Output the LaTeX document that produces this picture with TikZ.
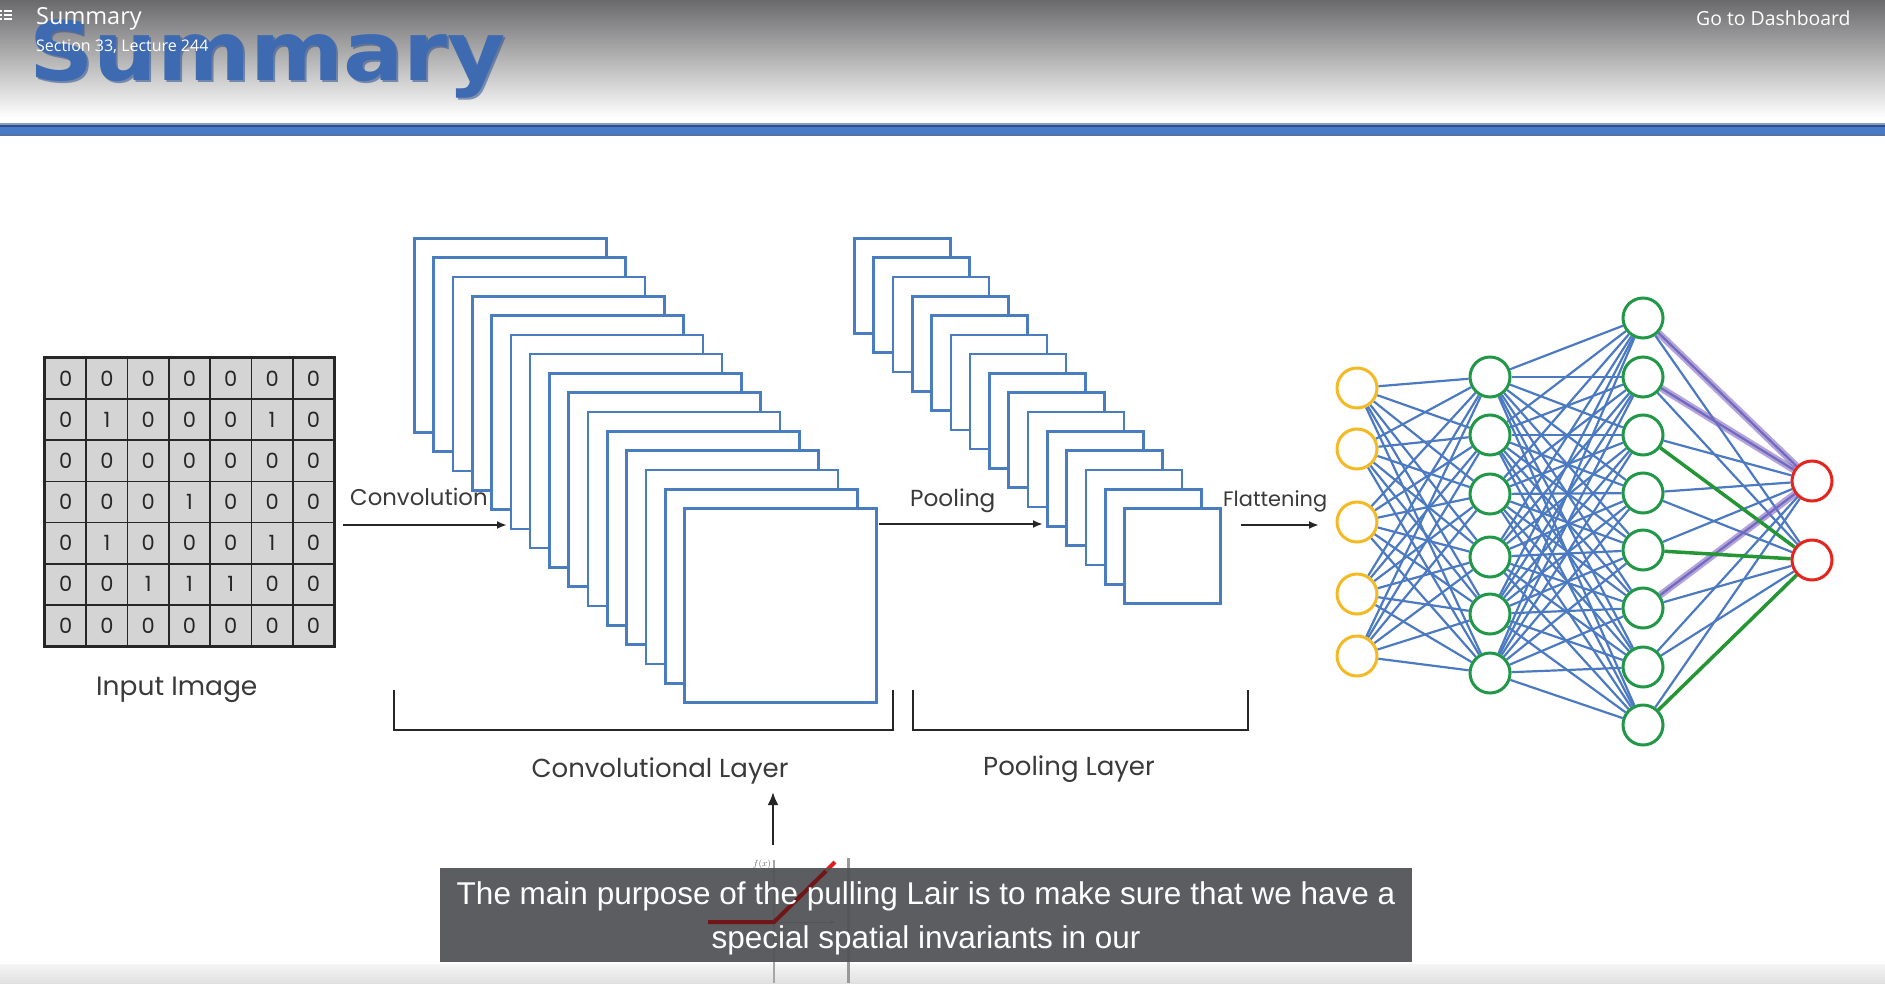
\documentclass[tikz,border=0pt]{standalone}
\usepackage{fontspec}
\setmainfont{Poppins}
\newfontfamily\capfont{Liberation Sans}
\newfontfamily\hdrfont{Open Sans}
\newfontfamily\bigfont{DejaVu Sans}
\usetikzlibrary{arrows.meta,backgrounds}
\newcommand\fsz[1]{\fontsize{#1pt}{#1pt}\selectfont}
\definecolor{cnnblue}{RGB}{74,124,192}
\definecolor{edgeblue}{RGB}{76,122,194}
\definecolor{nngreen}{RGB}{32,152,72}
\definecolor{nnyellow}{RGB}{244,186,36}
\definecolor{nnred}{RGB}{230,36,30}
\definecolor{hpurple}{RGB}{132,100,192}
\definecolor{hgreen}{RGB}{36,150,52}
\definecolor{gridgray}{RGB}{212,212,212}
\definecolor{capgray}{RGB}{80,81,86}
\definecolor{titleblue}{RGB}{62,106,178}
\definecolor{banddark}{RGB}{44,78,140}
\definecolor{bandblue}{RGB}{72,122,200}
\definecolor{labelgray}{RGB}{58,58,58}
\definecolor{hdrgray}{RGB}{106,106,108}
\definecolor{darkred}{RGB}{112,22,22}
\definecolor{brightred}{RGB}{222,30,30}
\newcommand\gridrow[2]{%
  \foreach \v [count=\c] in {#2} {%
    \node[cell] (g#1-\c) at ({45+41.29*(\c-0.5)},{358+41.14*(#1-0.5)}) {\v};}}
\begin{document}
\begin{tikzpicture}[x=1pt,y=-1pt,
  fmap/.style={rectangle, draw=cnnblue, line width=2.6pt, fill=white, inner sep=0, anchor=north west},
  cell/.style={rectangle, draw=black!85, line width=1.8pt, fill=gridgray, inner sep=0,
    minimum width=41.29pt, minimum height=41.14pt, text=black!85, font=\fsz{21}},
  lbl/.style={inner sep=0, text=labelgray, anchor=base west},
  arr/.style={draw=black!85, line width=2pt, -{Latex[length=10pt,width=8pt]}},
  brk/.style={draw=black!85, line width=2.2pt},
  nnode/.style={circle, line width=3pt, fill=white, minimum size=40pt, inner sep=0},
  edge/.style={draw=edgeblue, line width=2.2pt},
  hpur/.style={draw=hpurple, line width=7pt, opacity=0.6},
  hgrn/.style={draw=hgreen, line width=3.5pt},
  hdr/.style={inner sep=0, text=white, anchor=base west}]
\useasboundingbox (0,0) rectangle (1885,983);
\begin{pgfonlayer}{background}
\fill[white] (0,0) rectangle (1885,983);
\end{pgfonlayer}
% header
\shade[top color=hdrgray, bottom color=white] (0,0) rectangle (1885,118);
\fill[white] (0,118) rectangle (1885,123);
\fill[black!25!bandblue!60!white] (0,123) rectangle (1885,125);
\fill[banddark] (0,125) rectangle (1885,127);
\fill[bandblue] (0,127) rectangle (1885,134);
\fill[banddark!80] (0,134) rectangle (1885,136);
\node[inner sep=0, anchor=base west, text=banddark, opacity=0.55] (bigsh) at (31,82) {\bigfont\bfseries\fsz{82}\scalebox{1.089}[1]{Summary}};
\node[inner sep=0, anchor=base west, text=titleblue] (big) at (29,80) {\bigfont\bfseries\fsz{82}\scalebox{1.089}[1]{Summary}};
\node[hdr, font=\hdrfont\fsz{23.5}] (hsum) at (36,24) {Summary};
\node[hdr, font=\hdrfont\fsz{16}] (hsec) at (36,51) {Section 33, Lecture 244};
\node[hdr, font=\hdrfont\fsz{19.4}] (hdash) at (1696,25) {Go to Dashboard};
\foreach \yy in {11,15,19} {
  \fill[white] (0,\yy-0.8) rectangle (2,\yy+0.8);
  \fill[white] (4,\yy-0.8) rectangle (12,\yy+0.8);}
% input grid
\gridrow{1}{0,0,0,0,0,0,0}
\gridrow{2}{0,1,0,0,0,1,0}
\gridrow{3}{0,0,0,0,0,0,0}
\gridrow{4}{0,0,0,1,0,0,0}
\gridrow{5}{0,1,0,0,0,1,0}
\gridrow{6}{0,0,1,1,1,0,0}
\gridrow{7}{0,0,0,0,0,0,0}
\draw[black!85, line width=2pt] (g1-1.north west) rectangle (g7-7.south east);
\node[lbl, font=\fsz{26.5}] (inlbl) at (96,695) {Input Image};
% convolution stack
\foreach \i in {0,...,14}
  \node[fmap, minimum width=192pt, minimum height=194pt] (conv\i) at ({413+19.3*\i},{237+19.3*\i}) {};
% pooling stack
\foreach \i in {0,...,14}
  \node[fmap, minimum width=96pt, minimum height=95pt] (pool\i) at ({853+19.3*\i},{237+19.3*\i}) {};
% arrows and labels
\coordinate (a1s) at (343,525); \coordinate (a1e) at (507,525);
\coordinate (a2s) at (879,524); \coordinate (a2e) at (1043,524);
\coordinate (a3s) at (1241,525); \coordinate (a3e) at (1319,525);
\draw[arr] (a1s) -- (a1e);
\draw[arr] (a2s) -- (a2e);
\draw[arr] (a3s) -- (a3e);
\node[lbl, font=\fsz{22.8}] (convlbl) at (350,505) {Convolution};
\node[lbl, font=\fsz{23.2}] (poollbl) at (910,506) {Pooling};
\node[lbl, font=\fsz{20.9}] (flatlbl) at (1223,506) {Flattening};
% brackets
\draw[brk] (394,690) -- (394,730) -- (893,730) -- (893,690);
\draw[brk] (913,690) -- (913,730) -- (1248,730) -- (1248,690);
\node[lbl, anchor=base, font=\fsz{26}] (convlayer) at (660,777) {Convolutional Layer};
\node[lbl, anchor=base, font=\fsz{26}] (poollayer) at (1069,775) {Pooling Layer};
\coordinate (ups) at (773,845); \coordinate (upe) at (773,792);
\draw[draw=black!85, line width=2.6pt, -{Latex[length=13pt,width=11pt]}] (ups) -- (upe);
% neural network
\foreach \y [count=\k] in {388,449,522,594,656}
  \node[nnode, draw=nnyellow] (i\k) at (1357,\y) {};
\foreach \y [count=\k] in {377,435,494,557,614,673}
  \node[nnode, draw=nngreen] (h\k) at (1490,\y) {};
\foreach \y [count=\k] in {318,377,435,493,550,608,667,725}
  \node[nnode, draw=nngreen] (k\k) at (1643,\y) {};
\foreach \y [count=\k] in {481,560}
  \node[nnode, draw=nnred] (o\k) at (1812,\y) {};
\begin{pgfonlayer}{background}
\foreach \a in {1,...,5} \foreach \b in {1,...,6} \draw[edge] (i\a) -- (h\b);
\foreach \a in {1,...,6} \foreach \b in {1,...,8} \draw[edge] (h\a) -- (k\b);
\foreach \a in {1,...,8} \foreach \b in {1,2} \draw[edge] (k\a) -- (o\b);
\draw[hpur] (k1) -- (o1);
\draw[hpur] (k2) -- (o1);
\draw[hpur] (k6) -- (o1);
\draw[hgrn] (k3) -- (o2);
\draw[hgrn] (k5) -- (o2);
\draw[hgrn] (k8) -- (o2);
\end{pgfonlayer}
% bottom video fragment
\shade[top color=black!4, bottom color=black!12] (0,964) rectangle (1885,983);
\draw[black!35, line width=1.5pt] (774,860) -- (774,983);
\draw[black!45, line width=1pt, -{Stealth[length=5pt]}] (777,922) -- (835,922);
\node[inner sep=0, text=black!60, font=\fsz{9}] (fx) at (762,864) {$f(x)$};
\draw[black!40, line width=3pt] (848,858) -- (848,983);
\draw[brightred, line width=4pt] (826,871) -- (835,862);
\fill[capgray, fill opacity=0.93] (440,868) rectangle (1412,962);
\draw[darkred, line width=4pt] (708,922) -- (774,922) -- (826,871);
\node[inner sep=0, anchor=base, text=white, font=\capfont\fsz{31.5}] (cap1) at (926,904) {The main purpose of the pulling Lair is to make sure that we have a};
\node[inner sep=0, anchor=base, text=white, font=\capfont\fsz{31.5}] (cap2) at (926,948) {special spatial invariants in our};
\end{tikzpicture}
\end{document}
